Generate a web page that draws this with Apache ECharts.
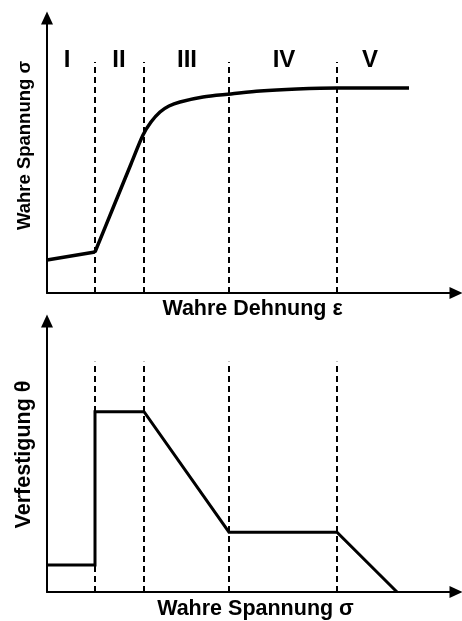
<!DOCTYPE html>
<html>
<head>
<meta charset="utf-8">
<script src="https://cdn.jsdelivr.net/npm/echarts@6/dist/echarts.min.js"></script>
<style>
  html, body { margin: 0; padding: 0; background: #fff; }
  #chart { width: 462px; height: 621px; }
</style>
</head>
<body>
<div id="chart"></div>
<script>
// Schematic flow curve and hardening rate (arbitrary units)
const stageBounds = [48, 97, 182, 290];          // stage boundaries on the strain/stress axis
const stageNames = ['I', 'II', 'III', 'IV', 'V'];
const stageLabelX = [20, 72, 140, 237, 323];
const stageLabelY = 233;
const boundaryTop = 231;

// true stress vs. true strain
const stage1Strain = [0, 48];
const stage1Stress = [33, 41];
const flowStrain = [48, 66, 84, 96, 104, 113, 122, 133, 156, 184, 213, 250, 290, 362];
const flowStress = [41, 85, 129, 158, 171, 181, 187, 191, 196, 199, 202, 204, 205, 205];

// hardening rate vs. true stress
const hardStress = [0, 48, 48, 97, 182, 290, 350];
const hardTheta = [27, 27, 181, 181, 60, 60, 0];

const xMax = 409;
const yMaxTop = 275;
const yMaxBottom = 272;

const FONT = '"Liberation Sans", Arial, sans-serif';

function pairs(xs, ys) { return xs.map((x, i) => [x, ys[i]]); }

function axisLine() {
  return {
    show: true,
    symbol: ['none', 'triangle'],
    symbolSize: [12, 13],
    lineStyle: { color: '#000', width: 2 }
  };
}

function boundaryLines() {
  return {
    silent: true,
    symbol: ['none', 'none'],
    label: { show: false },
    lineStyle: { color: '#000', width: 2, type: [6, 4] },
    data: stageBounds.map(x => [{ coord: [x, 0] }, { coord: [x, boundaryTop] }])
  };
}

function titleStyle(size, extra) {
  return Object.assign({ fontFamily: FONT, fontWeight: 'bold', fontSize: size, color: '#000' }, extra || {});
}

const hidden = { axisTick: { show: false }, axisLabel: { show: false }, splitLine: { show: false } };

const option = {
  animation: false,
  backgroundColor: '#fff',
  grid: [
    { left: 47, top: 18, width: xMax, height: yMaxTop },
    { left: 47, top: 321, width: xMax, height: yMaxBottom }
  ],
  xAxis: [
    Object.assign({
      type: 'value', gridIndex: 0, min: 0, max: xMax,
      axisLine: axisLine(),
      name: 'Wahre Dehnung ε', nameLocation: 'middle', nameGap: 5,
      nameTextStyle: titleStyle(21.5, { verticalAlign: 'top', padding: [0, 0, 0, 2] })
    }, hidden),
    Object.assign({
      type: 'value', gridIndex: 1, min: 0, max: xMax,
      axisLine: axisLine(),
      name: 'Wahre Spannung σ', nameLocation: 'middle', nameGap: 6,
      nameTextStyle: titleStyle(21.5, { verticalAlign: 'top', padding: [0, 0, 0, 8] })
    }, hidden)
  ],
  yAxis: [
    Object.assign({
      type: 'value', gridIndex: 0, min: 0, max: yMaxTop,
      axisLine: axisLine(),
      name: 'Wahre Spannung σ', nameLocation: 'middle', nameGap: 13,
      nameTextStyle: titleStyle(18.5, { padding: [0, 0, 0, 20] })
    }, hidden),
    Object.assign({
      type: 'value', gridIndex: 1, min: 0, max: yMaxBottom,
      axisLine: axisLine(),
      name: 'Verfestigung θ', nameLocation: 'middle', nameGap: 12,
      nameTextStyle: titleStyle(21.5, { padding: [0, 0, 0, 4] })
    }, hidden)
  ],
  series: [
    {
      type: 'line', xAxisIndex: 0, yAxisIndex: 0,
      data: pairs(stage1Strain, stage1Stress),
      symbol: 'none', lineStyle: { color: '#000', width: 3.5 },
      markLine: boundaryLines()
    },
    {
      type: 'line', xAxisIndex: 0, yAxisIndex: 0,
      data: pairs(flowStrain, flowStress),
      smooth: 0.3,
      symbol: 'none', lineStyle: { color: '#000', width: 3.5 }
    },
    {
      type: 'scatter', xAxisIndex: 0, yAxisIndex: 0,
      data: stageNames.map((n, i) => ({ value: [stageLabelX[i], stageLabelY], name: n })),
      symbolSize: 0,
      itemStyle: { opacity: 1 },
      label: {
        show: true, position: 'inside', formatter: p => p.name,
        fontFamily: FONT, fontWeight: 'bold', fontSize: 24, color: '#000', opacity: 1
      }
    },
    {
      type: 'line', xAxisIndex: 1, yAxisIndex: 1,
      data: pairs(hardStress, hardTheta),
      symbol: 'none', lineStyle: { color: '#000', width: 3, join: 'miter' },
      markLine: boundaryLines()
    }
  ]
};

echarts.init(document.getElementById('chart'), null, { renderer: 'canvas' }).setOption(option);
</script>
</body>
</html>
